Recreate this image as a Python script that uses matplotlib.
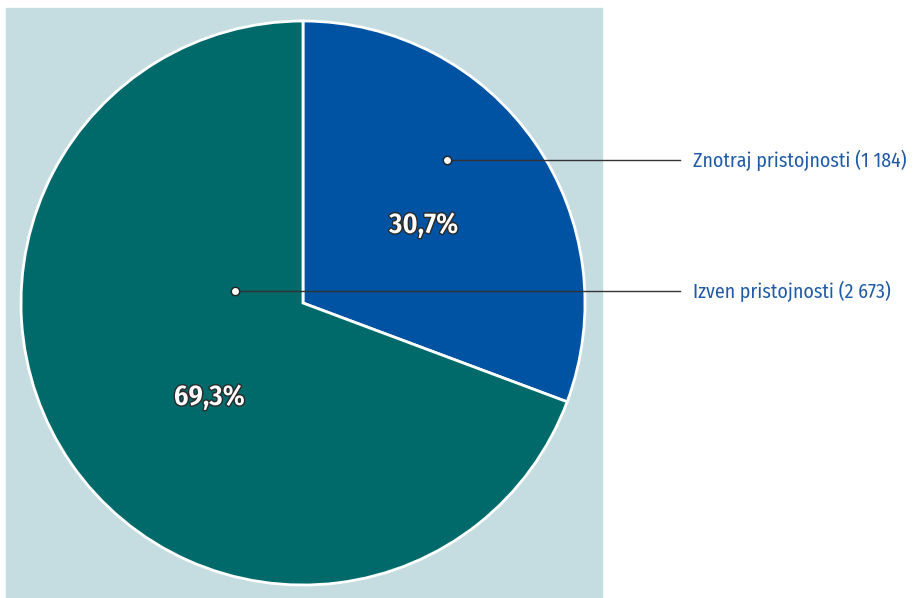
import matplotlib
matplotlib.use("Agg")
import matplotlib.pyplot as plt
import matplotlib.patheffects as pe
import numpy as np

# Podatki
labels = ["Znotraj pristojnosti (1 184)", "Izven pristojnosti (2 673)"]
values = [1184, 2673]
colors = ["#0052a3", "#006a6a"]

W, H = 914, 598
fig = plt.figure(figsize=(W / 100, H / 100), dpi=100)
ax = fig.add_axes([0, 0, 1, 1])

font = ["Fira Sans Condensed", "Asap Condensed", "Barlow Semi Condensed", "DejaVu Sans"]

# ozadje
ax.add_patch(plt.Rectangle((6, 0), 596, 590, color="#c5dce0", zorder=0))

cx, cy, r = 303, 295, 282
wedges, _ = ax.pie(values, colors=colors, startangle=90, counterclock=False,
                   center=(cx, cy), radius=r, frame=True,
                   wedgeprops=dict(edgecolor="white", linewidth=2))
ax.set_xlim(0, W)
ax.set_ylim(0, H)
ax.set_aspect("equal")
ax.axis("off")

total = sum(values)
pct_pos = [(0.51, 33), (0.47, -135)]
for v, (d, a) in zip(values, pct_pos):
    txt = f"{v / total * 100:.1f}%".replace(".", ",")
    x = cx + d * r * np.cos(np.radians(a))
    y = cy + d * r * np.sin(np.radians(a))
    ax.text(x, y, txt, ha="center", va="center", color="white",
            fontsize=20.5, fontweight="semibold", family=font,
            path_effects=[pe.withStroke(linewidth=2, foreground="#2a2a2a")])

# oznake z linijami
anchors = [(447, 438), (235, 307)]
for lab, (x0, y0) in zip(labels, anchors):
    ax.plot([x0, 680], [y0, y0], color="#333333", lw=1, zorder=3)
    ax.plot(x0, y0, "o", ms=6, mfc="white", mec="#222222", mew=1, zorder=4)
    ax.text(693, y0, lab, ha="left", va="center", color="#1f5aa6",
            fontsize=14.3, family=font)

fig.savefig("out.png", dpi=100)
